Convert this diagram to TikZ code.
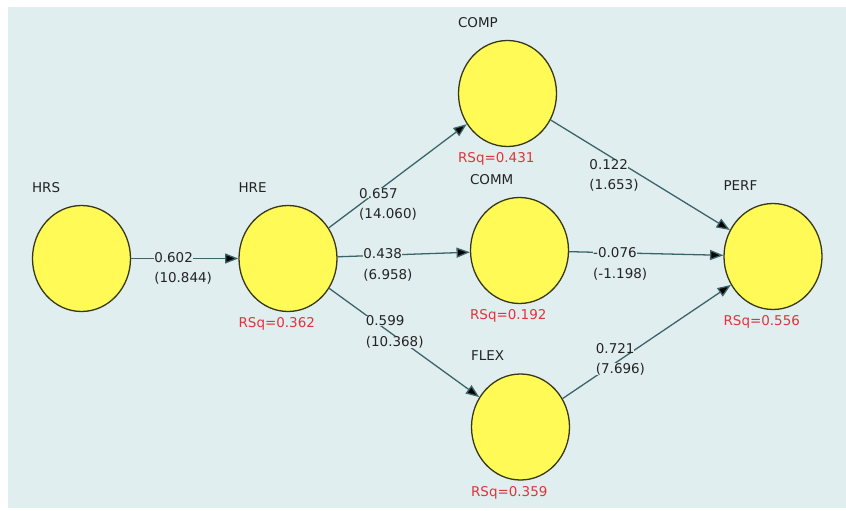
\documentclass[tikz,border=0pt]{standalone}
\usepackage{fontspec}
\setmainfont{DejaVu Sans}
\usetikzlibrary{shapes.geometric, arrows.meta, positioning}

\definecolor{bgblue}{RGB}{224,238,240}
\definecolor{lvyellow}{RGB}{255,250,85}
\definecolor{lvedge}{RGB}{55,55,25}
\definecolor{pathteal}{RGB}{58,100,104}
\definecolor{rsqred}{RGB}{222,52,58}
\definecolor{txtgray}{RGB}{35,35,35}

% text line with the background colour behind it
\newcommand{\cbox}[1]{{\fboxsep=0pt\colorbox{bgblue}{#1}}}

\tikzset{
  latent/.style={ellipse, draw=lvedge, fill=lvyellow, line width=1.1pt,
    minimum width=2.94cm, minimum height=3.18cm, inner sep=0pt},
  lvname/.style={text=txtgray, font=\fontsize{11.5}{14}\selectfont,
    inner sep=0pt, anchor=base west, yshift=0.38cm},
  rsq/.style={text=rsqred, font=\fontsize{11.5}{14}\selectfont,
    inner sep=0pt, anchor=base west, yshift=-0.47cm},
  coef/.style={text=txtgray, font=\fontsize{11.5}{17.5}\selectfont,
    align=left, inner sep=0pt, anchor=north west},
  struct/.style={draw=pathteal, line width=1.1pt,
    -{Triangle[length=0.4cm,width=0.3cm]}}
}

\begin{document}
\begin{tikzpicture}[x=0.03cm,y=-0.03cm]
   \useasboundingbox (0,0) rectangle (846,511);
   \fill[bgblue] (8,7) rectangle (846,508);

   % latent variables
   \node[latent] (hrs)  at (81.5,258.5) {};
   \node[latent] (hre)  at (288,258.5)  {};
   \node[latent] (comp) at (507.5,93.5) {};
   \node[latent] (comm) at (519.5,250.5) {};
   \node[latent] (flex) at (520.5,427)  {};
   \node[latent] (perf) at (773,256.5)  {};

   \node[lvname] (hrsT)  at (hrs.west |- hrs.north)   {HRS};
   \node[lvname] (hreT)  at (hre.west |- hre.north)   {HRE};
   \node[lvname] (compT) at (comp.west |- comp.north) {COMP};
   \node[lvname] (commT) at (comm.west |- comm.north) {COMM};
   \node[lvname] (flexT) at (flex.west |- flex.north) {FLEX};
   \node[lvname] (perfT) at (perf.west |- perf.north) {PERF};

   \node[rsq] (hreR)  at (hre.west |- hre.south)   {RSq=0.362};
   \node[rsq] (compR) at (comp.west |- comp.south) {RSq=0.431};
   \node[rsq] (commR) at (comm.west |- comm.south) {RSq=0.192};
   \node[rsq] (flexR) at (flex.west |- flex.south) {RSq=0.359};
   \node[rsq] (perfR) at (perf.west |- perf.south) {RSq=0.556};

   % path coefficients (t-values)
   \path[struct]
    (hrs)  edge node[coef, pos=0.21,  yshift=0.21cm]  (c1) {\cbox{0.602}\\\cbox{(10.844)}} (hre)
    (hre)  edge node[coef, pos=0.216, yshift=0.54cm]  (c2) {\cbox{0.657}\\\cbox{(14.060)}} (comp)
    (hre)  edge node[coef, pos=0.19,  yshift=0.23cm]  (c3) {\cbox{0.438}\\\cbox{(6.958)}} (comm)
    (hre)  edge node[coef, pos=0.24,  yshift=-0.02cm] (c4) {\cbox{0.599}\\\cbox{(10.368)}} (flex)
    (comp) edge node[coef, pos=0.213, yshift=-0.45cm] (c5) {\cbox{0.122}\\\cbox{(1.653)}} (perf)
    (comm) edge node[coef, pos=0.152, yshift=0.15cm]  (c6) {\cbox{-0.076}\\\cbox{(-1.198)}} (perf)
    (flex) edge node[coef, pos=0.194, yshift=1.02cm]  (c7) {\cbox{0.721}\\\cbox{(7.696)}} (perf);

\end{tikzpicture}
\end{document}
